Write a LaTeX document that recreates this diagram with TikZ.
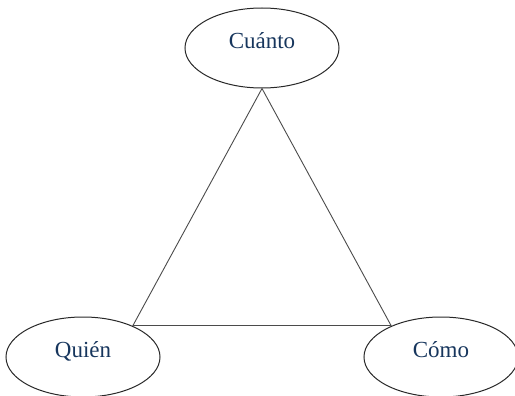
\documentclass[tikz,border=0pt]{standalone}
\usepackage{fontspec}
\setmainfont{Liberation Serif}
\usetikzlibrary{shapes.geometric}
\definecolor{c17365d}{RGB}{23,54,93}
\definecolor{c333333}{RGB}{40,40,40}
\definecolor{c555555}{RGB}{75,75,75}

\begin{document}
\begin{tikzpicture}[x=1pt,y=-1pt]

\useasboundingbox (0,0) rectangle (515,396);

\begin{scope}[every node/.style={draw=c333333,ellipse,line width=1pt,minimum width=154,minimum height=80,inner sep=0pt,text=c17365d,font=\fontsize{23}{23}\selectfont}]
\node (cuanto) at (262,48) {\raisebox{14pt}{Cuánto}};
\node (quien) at (83,357) {\raisebox{14pt}{Quién}};
\node (como) at (441,357) {\raisebox{14pt}{Cómo}};
\end{scope}

\begin{scope}[line width=0.9pt,color=c555555]
\draw[-] (cuanto.south) to (quien.32);
\draw[-] (quien.32) to (como.148);
\draw[-] (como.148) to (cuanto.south);
\end{scope}

\end{tikzpicture}
\end{document}
